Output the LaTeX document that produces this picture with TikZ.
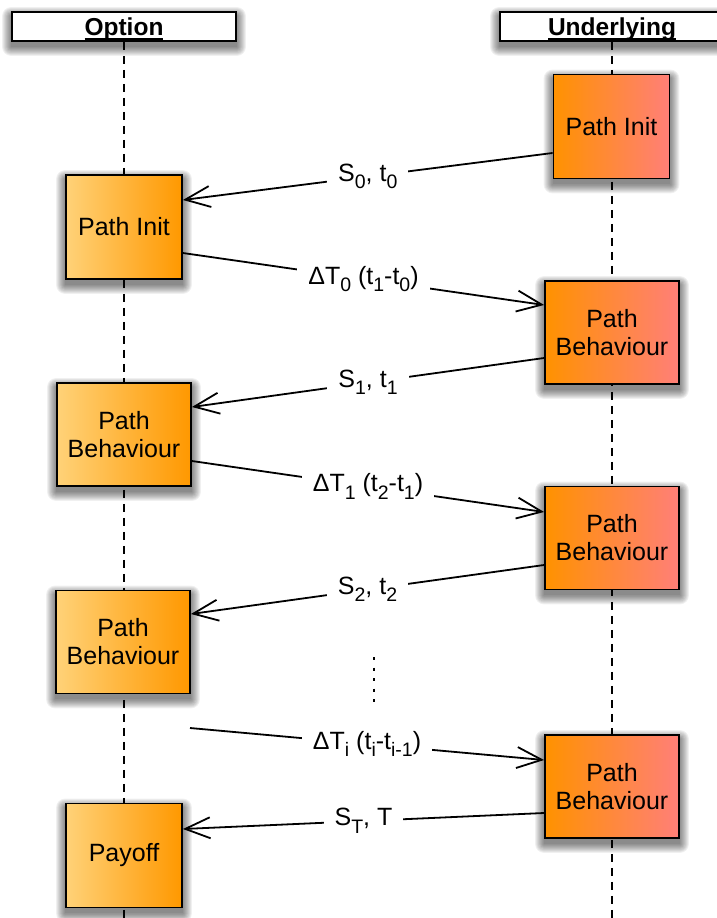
\documentclass[tikz,border=0pt]{standalone}
\usepackage{fontspec}
\setmainfont{Liberation Sans}
\usetikzlibrary{arrows.meta,calc}

\definecolor{optL}{RGB}{255,210,120}
\definecolor{optR}{RGB}{255,152,0}
\definecolor{undL}{RGB}{255,146,0}
\definecolor{undR}{RGB}{255,127,120}

\pgfdeclarelayer{lifeback}
\pgfdeclarelayer{shadeback}
\pgfsetlayers{lifeback,shadeback,main}

% subscript in text
\newcommand\sbs[1]{\raisebox{-7.5pt}{\fontsize{19.5}{19.5}\selectfont #1}}
% thick underline for the lane titles
\newcommand\hdrline[1]{\setbox0\hbox{#1}\rlap{\rule[-5pt]{\wd0}{2pt}}\box0}
% soft blurred shadow under a node
\newcommand\softshade[1]{%
  \foreach \k in {0,...,9}{%
    \fill[black,opacity=0.06,rounded corners=\k pt]
      ($(#1.south west)+(-\k,\k+5)$) rectangle ($(#1.north east)+(\k,5-\k)$);
  }}

\tikzset{
  every node/.style={font=\fontsize{25}{28}\selectfont},
  header/.style={draw, line width=1.8pt, fill=white, minimum width=224pt,
    minimum height=29pt, inner sep=0pt, text height=17.5pt, text depth=0pt,
    font=\fontsize{24.5}{28}\selectfont\bfseries},
  optbox/.style={draw, line width=1.8pt, left color=optL, right color=optR,
    align=center, inner sep=0pt},
  undbox/.style={draw, line width=1.8pt, left color=undL, right color=undR,
    align=center, inner sep=0pt},
  narrow/.style={minimum width=116pt, minimum height=104pt},
  wide/.style={minimum width=134pt, minimum height=103pt},
  lifeline/.style={line width=1.6pt, dash pattern=on 8pt off 6pt},
  msg/.style={line width=1.8pt, -{Straight Barb[length=25pt,width=21pt]}},
  lbl/.style={fill=white, inner xsep=11pt, inner ysep=1pt, midway},
}

\begin{document}
\begin{tikzpicture}[x=1pt,y=-1pt]
\useasboundingbox (0,0) rectangle (717,918);

% lane titles
\node[header] (hOpt) at (124,26.5) {\hdrline{Option}};
\node[header] (hUnd) at (612,26.5) {\hdrline{Underlying}};
\coordinate (optEnd) at (124,918);
\coordinate (undEnd) at (612,918);

% option lane
\node[optbox,narrow] (lInit) at (124,227) {Path Init};
\node[optbox,wide] (lPB1) at (124,434.5) {Path\\Behaviour};
\node[optbox,wide] (lPB2) at (123,642) {Path\\Behaviour};
\node[optbox,narrow] (payoff) at (124,855.5) {Payoff};

% underlying lane
\node[undbox,narrow] (rInit) at (611.5,126.5) {Path Init};
\node[undbox,wide] (rPB1) at (612,332.5) {Path\\Behaviour};
\node[undbox,wide] (rPB2) at (612,538) {Path\\Behaviour};
\node[undbox,wide] (rPB3) at (612,786.5) {Path\\Behaviour};

\begin{pgfonlayer}{lifeback}
  \draw[lifeline] (hOpt.south) -- (optEnd);
  \draw[lifeline] (hUnd.south) -- (undEnd);
\end{pgfonlayer}

\begin{pgfonlayer}{shadeback}
  \softshade{hOpt}\softshade{hUnd}
  \softshade{lInit}\softshade{lPB1}\softshade{lPB2}\softshade{payoff}
  \softshade{rInit}\softshade{rPB1}\softshade{rPB2}\softshade{rPB3}
\end{pgfonlayer}

% messages
\draw[msg] ($(rInit.west)+(0,26.5)$) -- node[lbl]{S\sbs{0}, t\sbs{0}} ($(lInit.east)+(0,-27)$);
\draw[msg] ($(lInit.east)+(0,26)$) -- node[lbl]{ΔT\sbs{0} (t\sbs{1}-t\sbs{0})} ($(rPB1.west)+(0,-27.5)$);
\draw[msg] ($(rPB1.west)+(0,25.5)$) -- node[lbl]{S\sbs{1}, t\sbs{1}} ($(lPB1.east)+(0,-27.5)$);
\draw[msg] ($(lPB1.east)+(0,26.5)$) -- node[lbl]{ΔT\sbs{1} (t\sbs{2}-t\sbs{1})} ($(rPB2.west)+(0,-26)$);
\draw[msg] ($(rPB2.west)+(0,27)$) -- node[lbl]{S\sbs{2}, t\sbs{2}} ($(lPB2.east)+(0,-28)$);

% continuation dots
\coordinate (dotsTop) at (374,657);
\coordinate (dotsBot) at (374,702);
\draw[line width=2pt, dash pattern=on 3pt off 7.5pt] (dotsTop) -- (dotsBot);

\coordinate (stepFrom) at (190,728);
\draw[msg] (stepFrom) -- node[lbl]{ΔT\sbs{i} (t\sbs{i}-t\sbs{i-1})} ($(rPB3.west)+(0,-26.5)$);
\draw[msg] ($(rPB3.west)+(0,26.5)$) -- node[lbl]{S\sbs{T}, T} ($(payoff.east)+(0,-26.5)$);
\end{tikzpicture}
\end{document}
